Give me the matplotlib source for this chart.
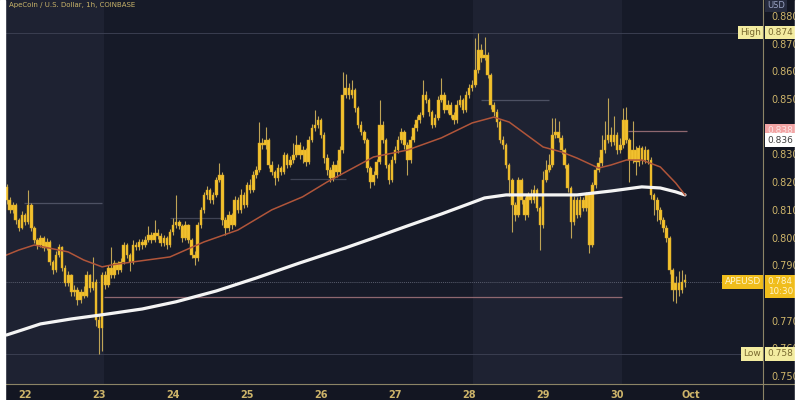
import numpy as np
import matplotlib
matplotlib.use('Agg')
import matplotlib.pyplot as plt
import matplotlib.transforms as mtransforms
from matplotlib.patches import Rectangle
from matplotlib.lines import Line2D

# APEUSD 1h candles, Sep 21 18:00 -> Sep 30 22:00
first_open = 0.8183
closes = [
    0.8136, 0.8100, 0.8118, 0.8064, 0.8035, 0.8082, 0.8056, 0.8118, 0.8035, 0.7991,
    0.7973, 0.7999, 0.7963, 0.7984, 0.7912, 0.7883, 0.7937, 0.7966, 0.7890, 0.7836,
    0.7865, 0.7803, 0.7811, 0.7775, 0.7803, 0.7789, 0.7865, 0.7818, 0.7840, 0.7703,
    0.7674, 0.7865, 0.7829, 0.7890, 0.7865, 0.7908, 0.7883, 0.7912, 0.7973, 0.7937,
    0.7912, 0.7973, 0.7966, 0.7984, 0.7973, 0.7991, 0.8009, 0.7991, 0.8017, 0.8006,
    0.7981, 0.7999, 0.7973, 0.8020, 0.8045, 0.8056, 0.8042, 0.7999, 0.8045, 0.7991,
    0.7937, 0.7926, 0.8045, 0.8100, 0.8154, 0.8172, 0.8136, 0.8154, 0.8208, 0.8226,
    0.8064, 0.8035, 0.8082, 0.8045, 0.8136, 0.8100, 0.8154, 0.8118, 0.8190, 0.8172,
    0.8226, 0.8244, 0.8342, 0.8334, 0.8352, 0.8262, 0.8237, 0.8215, 0.8251, 0.8237,
    0.8298, 0.8262, 0.8280, 0.8298, 0.8334, 0.8298, 0.8316, 0.8273, 0.8352, 0.8396,
    0.8407, 0.8425, 0.8370, 0.8287, 0.8244, 0.8215, 0.8262, 0.8237, 0.8316, 0.8515,
    0.8540, 0.8515, 0.8533, 0.8468, 0.8407, 0.8381, 0.8352, 0.8251, 0.8201, 0.8226,
    0.8273, 0.8407, 0.8352, 0.8262, 0.8208, 0.8280, 0.8316, 0.8352, 0.8381, 0.8334,
    0.8280, 0.8352, 0.8396, 0.8425, 0.8443, 0.8515, 0.8497, 0.8453, 0.8407, 0.8432,
    0.8497, 0.8515, 0.8461, 0.8479, 0.8443, 0.8425, 0.8479, 0.8497, 0.8461, 0.8515,
    0.8540, 0.8551, 0.8605, 0.8677, 0.8648, 0.8659, 0.8587, 0.8479, 0.8453, 0.8417,
    0.8352, 0.8334, 0.8262, 0.8208, 0.8118, 0.8082, 0.8208, 0.8136, 0.8082, 0.8154,
    0.8136, 0.8172, 0.8107, 0.8045, 0.8208, 0.8244, 0.8262, 0.8370, 0.8381, 0.8360,
    0.8316, 0.8262, 0.8179, 0.8056, 0.8136, 0.8082, 0.8136, 0.8107, 0.8154, 0.7973,
    0.8190, 0.8244, 0.8269, 0.8316, 0.8352, 0.8370, 0.8345, 0.8370, 0.8316, 0.8334,
    0.8425, 0.8352, 0.8280, 0.8316, 0.8273, 0.8324, 0.8280, 0.8316, 0.8280, 0.8154,
    0.8136, 0.8100, 0.8064, 0.8035, 0.7999, 0.7883, 0.7811, 0.7836, 0.7811, 0.7840,
    0.7840,
]
highs = [
    0.8195, 0.8145, 0.8130, 0.8125, 0.8070, 0.8095, 0.8090, 0.8172, 0.8125, 0.8040,
    0.8000, 0.8010, 0.8005, 0.8000, 0.7990, 0.7920, 0.7950, 0.7975, 0.7970, 0.7900,
    0.7880, 0.7870, 0.7830, 0.7820, 0.7815, 0.7825, 0.7880, 0.7870, 0.7930, 0.7850,
    0.7720, 0.7875, 0.7880, 0.7900, 0.7966, 0.7920, 0.7915, 0.7925, 0.7985, 0.7980,
    0.7945, 0.7990, 0.7985, 0.7995, 0.7995, 0.8005, 0.8040, 0.8020, 0.8064, 0.8030,
    0.8015, 0.8010, 0.8005, 0.8030, 0.8071, 0.8154, 0.8065, 0.8050, 0.8060, 0.8050,
    0.8000, 0.7950, 0.8055, 0.8110, 0.8165, 0.8185, 0.8180, 0.8165, 0.8220, 0.8270,
    0.8235, 0.8075, 0.8095, 0.8090, 0.8150, 0.8145, 0.8175, 0.8165, 0.8200, 0.8210,
    0.8240, 0.8260, 0.8417, 0.8360, 0.8400, 0.8360, 0.8275, 0.8245, 0.8265, 0.8260,
    0.8310, 0.8305, 0.8295, 0.8340, 0.8370, 0.8345, 0.8330, 0.8325, 0.8365, 0.8410,
    0.8461, 0.8440, 0.8430, 0.8380, 0.8300, 0.8255, 0.8275, 0.8280, 0.8330, 0.8598,
    0.8590, 0.8560, 0.8570, 0.8540, 0.8475, 0.8420, 0.8390, 0.8360, 0.8260, 0.8240,
    0.8285, 0.8497, 0.8420, 0.8360, 0.8270, 0.8295, 0.8330, 0.8365, 0.8395, 0.8390,
    0.8345, 0.8365, 0.8410, 0.8440, 0.8455, 0.8569, 0.8530, 0.8505, 0.8460, 0.8445,
    0.8510, 0.8576, 0.8525, 0.8495, 0.8490, 0.8455, 0.8495, 0.8515, 0.8505, 0.8530,
    0.8555, 0.8570, 0.8720, 0.8740, 0.8700, 0.8725, 0.8670, 0.8595, 0.8490, 0.8465,
    0.8425, 0.8365, 0.8340, 0.8270, 0.8215, 0.8130, 0.8220, 0.8215, 0.8145, 0.8165,
    0.8175, 0.8190, 0.8180, 0.8115, 0.8240, 0.8280, 0.8300, 0.8432, 0.8432, 0.8420,
    0.8370, 0.8325, 0.8270, 0.8185, 0.8150, 0.8145, 0.8150, 0.8145, 0.8165, 0.8160,
    0.8200, 0.8255, 0.8290, 0.8370, 0.8420, 0.8504, 0.8400, 0.8440, 0.8380, 0.8360,
    0.8468, 0.8472, 0.8360, 0.8420, 0.8330, 0.8335, 0.8330, 0.8330, 0.8320, 0.8290,
    0.8160, 0.8145, 0.8110, 0.8075, 0.8045, 0.8005, 0.7890, 0.7860, 0.7880, 0.7883,
    0.7870,
]
lows = [
    0.8120, 0.8090, 0.8090, 0.8050, 0.8025, 0.8030, 0.8045, 0.8050, 0.8025, 0.7980,
    0.7960, 0.7965, 0.7950, 0.7955, 0.7900, 0.7870, 0.7875, 0.7930, 0.7880, 0.7825,
    0.7825, 0.7790, 0.7790, 0.7757, 0.7765, 0.7780, 0.7785, 0.7805, 0.7810, 0.7680,
    0.7580, 0.7590, 0.7815, 0.7820, 0.7855, 0.7855, 0.7870, 0.7875, 0.7905, 0.7925,
    0.7880, 0.7905, 0.7955, 0.7955, 0.7960, 0.7965, 0.7985, 0.7980, 0.7985, 0.7995,
    0.7970, 0.7970, 0.7960, 0.7965, 0.8010, 0.8035, 0.8030, 0.7985, 0.7990, 0.7980,
    0.7925, 0.7900, 0.7915, 0.8035, 0.8090, 0.8140, 0.8125, 0.8120, 0.8145, 0.8200,
    0.8045, 0.8010, 0.8025, 0.8030, 0.8040, 0.8090, 0.8090, 0.8105, 0.8110, 0.8160,
    0.8165, 0.8215, 0.8235, 0.8320, 0.8320, 0.8250, 0.8225, 0.8190, 0.8205, 0.8225,
    0.8230, 0.8250, 0.8255, 0.8270, 0.8290, 0.8285, 0.8270, 0.8260, 0.8265, 0.8345,
    0.8385, 0.8395, 0.8360, 0.8270, 0.8225, 0.8200, 0.8205, 0.8220, 0.8225, 0.8305,
    0.8505, 0.8500, 0.8505, 0.8455, 0.8395, 0.8370, 0.8340, 0.8235, 0.8180, 0.8190,
    0.8215, 0.8265, 0.8340, 0.8250, 0.8195, 0.8200, 0.8270, 0.8305, 0.8340, 0.8320,
    0.8226, 0.8270, 0.8345, 0.8385, 0.8415, 0.8435, 0.8485, 0.8440, 0.8395, 0.8400,
    0.8425, 0.8490, 0.8450, 0.8450, 0.8430, 0.8410, 0.8415, 0.8470, 0.8450, 0.8455,
    0.8505, 0.8530, 0.8545, 0.8595, 0.8635, 0.8640, 0.8575, 0.8465, 0.8440, 0.8400,
    0.8340, 0.8320, 0.8250, 0.8150, 0.8020, 0.8060, 0.8075, 0.8120, 0.8065, 0.8075,
    0.8125, 0.8125, 0.8095, 0.7955, 0.8035, 0.8200, 0.8235, 0.8255, 0.8360, 0.8345,
    0.8300, 0.8250, 0.8165, 0.8000, 0.8045, 0.8070, 0.8075, 0.8095, 0.8095, 0.7944,
    0.7965, 0.8180, 0.8235, 0.8260, 0.8305, 0.8340, 0.8330, 0.8335, 0.8300, 0.8305,
    0.8325, 0.8340, 0.8200, 0.8270, 0.8225, 0.8260, 0.8265, 0.8270, 0.8265, 0.8140,
    0.8080, 0.8060, 0.8050, 0.8020, 0.7985, 0.7870, 0.7770, 0.7764, 0.7790, 0.7800,
    0.7820,
]

# moving averages (candle index, price)
slow_ma_idx = [0, 5, 11, 21, 31, 44, 55, 68, 81, 95, 110, 121, 130, 141, 149, 155, 162, 174, 185, 196, 206, 212, 217, 220]
slow_ma_val = [0.7648, 0.7666, 0.7688, 0.7706, 0.7721, 0.7742, 0.7768, 0.7807, 0.7854, 0.7908, 0.7963, 0.8006,
               0.8042, 0.8085, 0.8118, 0.8143, 0.8154, 0.8154, 0.8154, 0.8168, 0.8183, 0.8179, 0.8165, 0.8154]
fast_ma_idx = [0, 4, 9, 12, 20, 25, 31, 34, 41, 53, 64, 75, 86, 96, 104, 110, 119, 130, 141, 151, 158, 163,
               174, 180, 185, 192, 196, 201, 206, 212, 217, 220]
fast_ma_val = [0.7937, 0.7955, 0.7973, 0.7966, 0.7948, 0.7919, 0.7894, 0.7901, 0.7912, 0.7930, 0.7984, 0.8027,
               0.8100, 0.8147, 0.8201, 0.8237, 0.8291, 0.8316, 0.8360, 0.8414, 0.8435, 0.8417, 0.8327, 0.8309,
               0.8287, 0.8251, 0.8262, 0.8280, 0.8280, 0.8255, 0.8197, 0.8154]

day_labels = ['22', '23', '24', '25', '26', '27', '28', '29', '30', 'Oct']
day_pos = [6, 30, 54, 78, 102, 126, 150, 174, 198, 222]
price_ticks = [0.750, 0.760, 0.770, 0.780, 0.790, 0.800, 0.810, 0.820, 0.830, 0.840, 0.850, 0.860, 0.870, 0.880]
hidden_ticks = [0.780, 0.840]  # covered by the price tags in the screenshot

shade_spans = [(-0.5, 31.6), (151.3, 199.5)]
# (price, from idx, to idx, colour, alpha)
level_lines = [
    (0.7786, 31.6, 199.5, '#9c7078', 0.9),
    (0.8385, 201.5, 220.5, '#9c7078', 0.9),
    (0.8497, 154.0, 176.0, '#5a5e70', 0.8),
    (0.8125, 5.5, 31.0, '#5a5e70', 0.8),
    (0.8211, 92.0, 110.0, '#4a4e60', 0.8),
    (0.8070, 53.0, 70.0, '#4a4e60', 0.8),
]
last_price = 0.784
high_price = 0.874
low_price = 0.758

BG = '#161a28'
SHADE = '#1e2232'
BODY = '#f2c12e'
WICK = '#bfa456'
TXT = '#cdb46a'

opens = [first_open] + closes[:-1]
x = np.arange(len(closes))
o = np.array(opens)
c = np.array(closes)

fig = plt.figure(figsize=(8, 4), dpi=100, facecolor='#131622')
ax = fig.add_axes([5 / 800, 16 / 400, 758 / 800, 384 / 400])
ax.set_facecolor(BG)

for a, b in shade_spans:
    ax.axvspan(a, b, color=SHADE, lw=0, zorder=0)

for p, a, b, col, al in level_lines:
    ax.hlines(p, a, b, color=col, lw=0.9, alpha=al, zorder=1)
ax.axhline(high_price, color='#3a3e50', lw=0.7, zorder=1)
ax.axhline(low_price, color='#3a3e50', lw=0.7, zorder=1)
ax.axhline(last_price, color='#585c6c', lw=0.7, ls=(0, (1, 1)), zorder=1)

# candles
ax.vlines(x, lows, highs, color=WICK, lw=0.8, zorder=2)
bottoms = np.minimum(o, c)
heights = np.maximum(np.abs(c - o), 0.0005)
ax.bar(x, heights, bottom=bottoms, width=0.84, color=BODY, edgecolor='#d9a520', lw=0.3, zorder=3)

# moving averages
ax.plot(slow_ma_idx, slow_ma_val, color='#f4f4f4', lw=2.3, zorder=4,
        solid_capstyle='round', solid_joinstyle='round')
ax.plot(fast_ma_idx, fast_ma_val, color='#b0553a', lw=1.1, zorder=5, solid_joinstyle='round')

ax.set_xlim(-0.5, 245.3)
ax.set_ylim(0.7471, 0.8858)

ax.set_xticks(day_pos)
ax.set_xticklabels(day_labels)
ax.set_yticks(price_ticks)
ax.set_yticklabels(['' if t in hidden_ticks else '%.3f' % t for t in price_ticks])
ax.yaxis.tick_right()
ax.tick_params(axis='y', length=0, pad=6, labelsize=7, labelcolor=TXT)
ax.tick_params(axis='x', length=0, pad=4, labelsize=7, labelcolor=TXT)
for lab in ax.get_xticklabels():
    lab.set_fontweight('bold')
for s in ax.spines.values():
    s.set_visible(False)

# axis frame lines
fig.add_artist(Line2D([763 / 800, 763 / 800], [0, 1], color='#8c8466', lw=0.8))
fig.add_artist(Line2D([5 / 800, 795 / 800], [16 / 400, 16 / 400], color='#8c8466', lw=0.8))
# white borders of the screenshot
fig.patches.append(Rectangle((0, 0), 5 / 800, 1, transform=fig.transFigure, color='white', zorder=10))
fig.patches.append(Rectangle((795 / 800, 0), 5 / 800, 1, transform=fig.transFigure, color='white', zorder=10))

# price tags on the right scale
tr = mtransforms.blended_transform_factory(ax.transAxes, ax.transData)


def tag(y, s, fc, tc, side='right', size=6.5):
    ax.text(1.006 if side == 'right' else 0.997, y, s, transform=tr,
            ha='left' if side == 'right' else 'right', va='center', fontsize=size,
            color=tc, clip_on=False, zorder=20,
            bbox=dict(boxstyle='square,pad=0.25', fc=fc, ec='none'))


tag(high_price, 'High', '#f3eca0', '#7a6a30', side='left')
tag(high_price, '%.3f' % high_price, '#f3eca0', '#7a6a30')
tag(0.8385, '0.838', '#f2a4a4', '#fbe4e4')
tag(0.8352, '0.836', '#ffffff', '#404040')
tag(last_price, 'APEUSD', '#f0bd1c', '#fff4cc', side='left')
tag(last_price - 0.0017, '0.784\n10:30', '#f0bd1c', '#fff4cc', size=6.3)
tag(low_price, 'Low', '#f3eca0', '#7a6a30', side='left')
tag(low_price, '%.3f' % low_price, '#f3eca0', '#7a6a30')

fig.text(767 / 800, 0.985, 'USD', fontsize=6, color='#9aa3c4', ha='left', va='center',
         bbox=dict(boxstyle='square,pad=0.2', fc='#262b3e', ec='none'))
fig.text(9 / 800, 0.988, 'ApeCoin / U.S. Dollar, 1h, COINBASE', fontsize=5, color='#c9b46a',
         ha='left', va='center')

fig.savefig('out.png', dpi=100, facecolor=fig.get_facecolor())
